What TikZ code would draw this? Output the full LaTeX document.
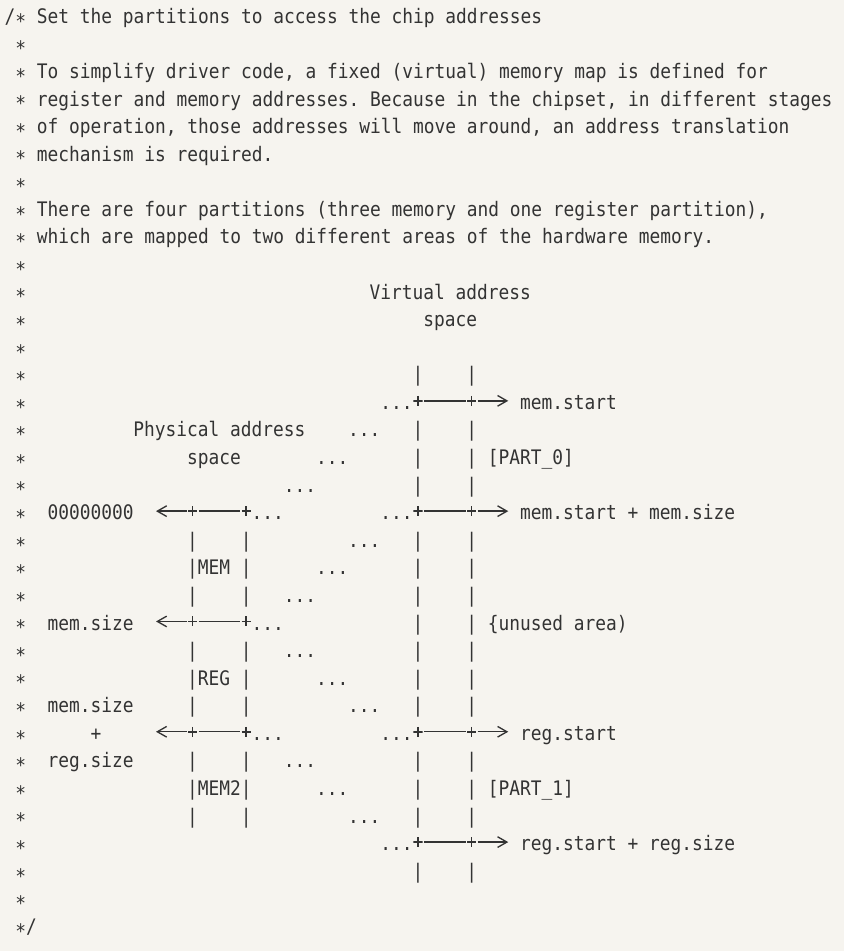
\documentclass[tikz,border=0pt]{standalone}
\usepackage{fontspec}
\usetikzlibrary{arrows.meta}
\newfontfamily\codefont{DejaVu Sans Mono}[FakeStretch=0.893, WordSpace={1,0,0}, PunctuationSpace=WordSpace]
\definecolor{cpaper}{HTML}{F6F4EF}
\definecolor{cink}{HTML}{333333}
\tikzset{
  every picture/.style={line width=1pt},
  code/.style={anchor=base west, inner sep=0pt, outer sep=0pt, text=cink, font=\fontsize{15}{18}\codefont},
  star/.style={code, yshift=-3.6pt},
  junction/.style={inner sep=0pt, outer sep=1pt, minimum width=7pt, minimum height=7.5pt,
    path picture={\draw[cink, line width=1.1pt]
      (path picture bounding box.north) -- (path picture bounding box.south)
      (path picture bounding box.west) -- (path picture bounding box.east);}},
  wire/.style={draw=cink, line width=1pt},
  arrow/.style={wire, -{Straight Barb[length=7pt, width=8pt]}},
}
\frenchspacing
\begin{document}
\begin{tikzpicture}[x=8.055pt, y=-20.685pt]
  \useasboundingbox[fill=cpaper] (-0.428,0.155) rectangle (78.15,34.64);
  % comment frame
  \node[code] (open) at (0,1) {/};
  \foreach \r in {1,...,34} \node[star] (st\r) at (1,\r) {*};
  \node[code] (close) at (2,34) {/};
  \node[code] (l1) at (3,1) {Set the partitions to access the chip addresses};
  \node[code] (l3) at (3,3) {To simplify driver code, a fixed (virtual) memory map is defined for};
  \node[code] (l4) at (3,4) {register and memory addresses. Because in the chipset, in different stages};
  \node[code] (l5) at (3,5) {of operation, those addresses will move around, an address translation};
  \node[code] (l6) at (3,6) {mechanism is required.};
  \node[code] (l8) at (3,8) {There are four partitions (three memory and one register partition),};
  \node[code] (l9) at (3,9) {which are mapped to two different areas of the hardware memory.};
  % address spaces
  \node[code] (virt) at (34,11) {Virtual address};
  \node[code] (virtsp) at (39,12) {space};
  \node[code] (phys) at (12,16) {Physical address};
  \node[code] (physsp) at (17,17) {space};
  \foreach \r in {14,16,17,18,20,21,22,23,24,25,26,28,29,30,32} {
    \node[code] (va\r) at (38,\r) {|};
    \node[code] (vb\r) at (43,\r) {|};
  }
  \foreach \r in {20,21,22,24,25,26,28,29,30} {
    \node[code] (pa\r) at (17,\r) {|};
    \node[code] (pb\r) at (22,\r) {|};
  }
  \node[code] (mem) at (18,21) {MEM};
  \node[code] (reg) at (18,25) {REG};
  \node[code] (memtwo) at (18,29) {MEM2};
  \foreach \c/\r in {35/15, 32/16, 29/17, 26/18, 23/19, 35/19, 32/20, 29/21, 26/22, 23/23,
                     26/24, 29/25, 32/26, 23/27, 35/27, 26/28, 29/29, 32/30, 35/31}
    \node[code] (dot\c-\r) at (\c,\r) {...};
  % physical addresses
  \node[code] (zero) at (4,19) {00000000};
  \node[code] (msize) at (4,23) {mem.size};
  \node[code] (msizeb) at (4,26) {mem.size};
  \node[code] (plus) at (8,27) {+};
  \node[code] (rsize) at (4,28) {reg.size};
  % virtual addresses
  \node[code] (mstart) at (48,15) {mem.start};
  \node[code] (part0) at (45,17) {[PART\_0]};
  \node[code] (mend) at (48,19) {mem.start + mem.size};
  \node[code] (unused) at (45,23) {\{unused area)};
  \node[code] (rstart) at (48,27) {reg.start};
  \node[code] (part1) at (45,29) {[PART\_1]};
  \node[code] (rend) at (48,31) {reg.start + reg.size};
  \foreach \r in {19,23,27} {
    \node[junction] (jl\r) at (17.5,\r-0.31) {};
    \node[junction] (jr\r) at (22.5,\r-0.31) {};
    \coordinate (tl\r) at (14.1,\r-0.31);
    \draw[arrow] (jl\r) -- (tl\r);
    \draw[wire] (jl\r) -- (jr\r);
  }
  \foreach \r in {15,19,27,31} {
    \node[junction] (ja\r) at (38.5,\r-0.31) {};
    \node[junction] (jb\r) at (43.5,\r-0.31) {};
    \coordinate (ta\r) at (46.9,\r-0.31);
    \draw[wire] (ja\r) -- (jb\r);
    \draw[arrow] (jb\r) -- (ta\r);
  }
\end{tikzpicture}
\end{document}
